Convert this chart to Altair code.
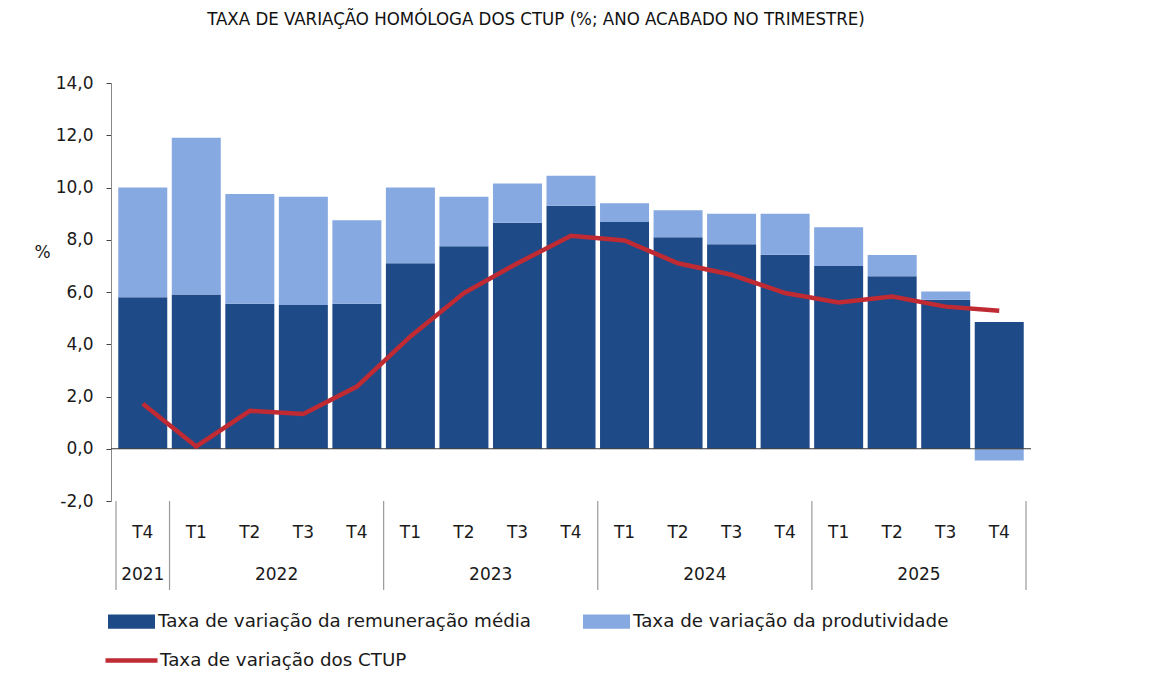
import altair as alt
import pandas as pd

quarters = ["T4", "T1", "T2", "T3", "T4", "T1", "T2", "T3", "T4",
            "T1", "T2", "T3", "T4", "T1", "T2", "T3", "T4"]
years = ["2021", "2022", "2022", "2022", "2022", "2023", "2023", "2023", "2023",
         "2024", "2024", "2024", "2024", "2025", "2025", "2025", "2025"]
remun = [5.8, 5.9, 5.55, 5.5, 5.55, 7.1, 7.75, 8.65, 9.3,
         8.68, 8.1, 7.83, 7.43, 7.0, 6.6, 5.7, 4.85]
produt = [4.2, 6.0, 4.2, 4.15, 3.2, 2.9, 1.9, 1.5, 1.15,
          0.72, 1.03, 1.17, 1.57, 1.48, 0.82, 0.32, -0.45]
ctup = [1.72, 0.09, 1.45, 1.33, 2.38, 4.3, 5.96, 7.1, 8.15,
        7.97, 7.1, 6.66, 5.96, 5.6, 5.83, 5.44, 5.28]

S_REM = "Taxa de variação da remuneração média"
S_PRO = "Taxa de variação da produtividade"
S_CTUP = "Taxa de variação dos CTUP"
TITLE = "TAXA DE VARIAÇÃO HOMÓLOGA DOS CTUP (%; ANO ACABADO NO TRIMESTRE)"

DARK = "#1F4A88"
LIGHT = "#86A9E1"
RED = "#BF2A33"
FONT = "DejaVu Sans"
TXT = "#1a1a1a"

n = len(quarters)
idx = list(range(n))
bars = pd.DataFrame({
    "idx": idx * 2,
    "value": remun + produt,
    "serie": [S_REM] * n + [S_PRO] * n,
    "ord": [0] * n + [1] * n,
})
line = pd.DataFrame({"idx": idx, "value": ctup, "serie": [S_CTUP] * n})
labels = pd.DataFrame({"idx": idx, "q": quarters, "year": years})

seps = [-0.5] + [i - 0.5 for i in range(1, n) if years[i] != years[i - 1]] + [n - 0.5]
sep_df = pd.DataFrame({"pos": seps})

xscale = alt.Scale(domain=[-0.5, n - 0.5], nice=False, zero=False)
yscale = alt.Scale(domain=[-2, 14], nice=False)
yaxis = alt.Axis(
    values=list(range(-2, 15, 2)),
    labelExpr="replace(replace(format(datum.value, '.1f'), '.', ','), '\u2212', '-')",
    grid=False, domainColor="#888888", tickColor="#444444", tickSize=5,
    labelPadding=13, labelFontSize=17, labelFont=FONT, labelColor=TXT,
    title="%", titleAngle=0, titleX=-69, titleY=169, titleFontSize=17,
    titleFont=FONT, titleFontWeight="normal", titleColor=TXT,
    titleAlign="center", titleBaseline="middle",
)

bar_layer = alt.Chart(bars).mark_bar(size=49).encode(
    x=alt.X("idx:Q", scale=xscale, axis=None),
    y=alt.Y("value:Q", scale=yscale, axis=yaxis, stack="zero"),
    color=alt.Color(
        "serie:N",
        scale=alt.Scale(domain=[S_REM, S_PRO], range=[DARK, LIGHT]),
        legend=alt.Legend(
            title=None, orient="none", legendX=-3, legendY=515,
            direction="horizontal", columns=2, columnPadding=51,
            symbolType="M-1,-0.3H1V0.3H-1Z", symbolSize=2209,
            symbolStrokeWidth=0, labelFont=FONT, labelFontSize=18.3,
            labelColor=TXT, labelOffset=3, labelLimit=0, padding=0,
        ),
    ),
    order=alt.Order("ord:Q"),
)

zero_rule = alt.Chart(pd.DataFrame({"y": [0]})).mark_rule(
    color="#333333", strokeWidth=1
).encode(y=alt.Y("y:Q", scale=yscale, axis=yaxis))

line_layer = alt.Chart(line).mark_line(strokeWidth=4.5).encode(
    x=alt.X("idx:Q", scale=xscale, axis=None),
    y=alt.Y("value:Q", scale=yscale, axis=yaxis),
    stroke=alt.Stroke(
        "serie:N",
        scale=alt.Scale(domain=[S_CTUP], range=[RED]),
        legend=alt.Legend(
            title=None, orient="none", legendX=-8, legendY=549,
            symbolType="stroke", symbolSize=2704, symbolStrokeWidth=4.5,
            labelFont=FONT, labelFontSize=18.3, labelColor=TXT,
            labelOffset=0, labelLimit=0, padding=0,
        ),
    ),
)

q_text = alt.Chart(labels).mark_text(
    font=FONT, fontSize=17, color=TXT, baseline="middle"
).encode(
    x=alt.X("idx:Q", scale=xscale, axis=None),
    y=alt.value(450),
    text="q:N",
)

y_text = alt.Chart(labels).transform_aggregate(
    pos="mean(idx)", groupby=["year"]
).mark_text(
    font=FONT, fontSize=17, color=TXT, baseline="middle"
).encode(
    x=alt.X("pos:Q", scale=xscale, axis=None),
    y=alt.value(492),
    text="year:N",
)

sep_layer = alt.Chart(sep_df).mark_rule(color="#999999", strokeWidth=1.2).encode(
    x=alt.X("pos:Q", scale=xscale, axis=None),
    y=alt.value(418),
    y2=alt.value(507),
)

chart = alt.layer(
    bar_layer, zero_rule, line_layer, q_text, y_text, sep_layer
).resolve_scale(color="independent").properties(
    width=920,
    height=418,
    padding={"left": 103, "top": 75, "right": 20, "bottom": 180},
    autosize=alt.AutoSizeParams(type="none"),
    title=alt.Title(
        TITLE, font="Liberation Sans Narrow, DejaVu Sans Condensed, Lato",
        fontSize=18.5, fontWeight="normal", color="#111111",
        anchor="middle", dx=-35, offset=46,
    ),
).configure_view(stroke=None)

chart.save("out.html", embed_options={"renderer": "svg", "actions": False})
